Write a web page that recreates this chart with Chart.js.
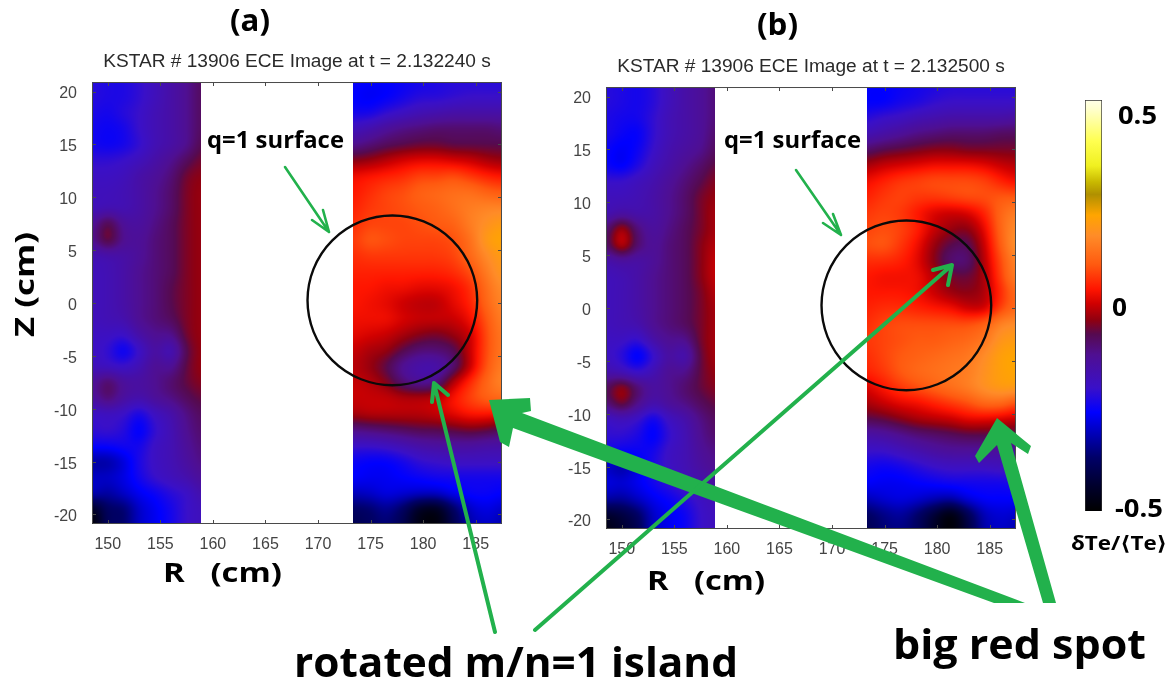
<!DOCTYPE html>
<html><head><meta charset="utf-8">
<script src="https://cdn.jsdelivr.net/npm/chart.js@4"></script>
<style>
html,body{margin:0;padding:0;background:#fff;width:1173px;height:685px;overflow:hidden}
canvas{position:absolute}
svg{position:absolute;left:0;top:0;pointer-events:none}
svg text{font-family:"Open Sans","Noto Sans","DejaVu Sans",sans-serif;font-weight:700;fill:#000}
</style></head><body>
<canvas id="ca" width="594" height="555" style="left:0;top:45px"></canvas>
<canvas id="cb" width="542" height="555" style="left:540px;top:50px"></canvas>
<canvas id="cc" width="17" height="411" style="left:1085px;top:100px"></canvas>
<svg width="1173" height="685" viewBox="0 0 1173 685">
 <g fill="#22b14c" stroke="none">
  <polygon points="489,400 530,398 531,411 522,413 1025,603 994,603 513,428 509,447 500,442"/>
  <polygon points="997,418 1031,446 1028,454 1011,443 1056,603 1043,603 997,445 979,463 975,456"/>
 </g>
 <g fill="none" stroke="#22b14c" stroke-linecap="round" stroke-linejoin="round">
  <path d="M285 167 L329 232 M312 220 L329 232 L323 210" stroke-width="2.6"/>
  <path d="M796 170 L841 235 M823 223 L841 235 L833 214" stroke-width="2.6"/>
  <path d="M495 632 L434 383 M432 402 L434 383 L448 395" stroke-width="4"/>
  <path d="M535 630 L952 265 M933 270 L952 265 L948 285" stroke-width="4"/>
 </g>
 <text x="230" y="31" font-size="30" textLength="40" lengthAdjust="spacingAndGlyphs">(a)</text>
 <text x="757" y="35" font-size="30" textLength="41" lengthAdjust="spacingAndGlyphs">(b)</text>
 <text x="207" y="148" font-size="23" textLength="137" lengthAdjust="spacingAndGlyphs">q=1 surface</text>
 <text x="724" y="148" font-size="23" textLength="137" lengthAdjust="spacingAndGlyphs">q=1 surface</text>
 <text x="163" y="582" font-size="27" textLength="119" lengthAdjust="spacingAndGlyphs">R&#160;&#160;&#160;(cm)</text>
 <text x="647" y="590" font-size="27" textLength="118" lengthAdjust="spacingAndGlyphs">R&#160;&#160;&#160;(cm)</text>
 <text transform="translate(34,337) rotate(-90)" font-size="27" textLength="105" lengthAdjust="spacingAndGlyphs">Z&#160;(cm)</text>
 <text x="294" y="677" font-size="41" textLength="444" lengthAdjust="spacingAndGlyphs">rotated m/n=1 island</text>
 <text x="893" y="659" font-size="41" textLength="253" lengthAdjust="spacingAndGlyphs">big red spot</text>
 <text x="1118" y="124" font-size="25" textLength="39" lengthAdjust="spacingAndGlyphs">0.5</text>
 <text x="1112" y="316" font-size="25" textLength="15" lengthAdjust="spacingAndGlyphs">0</text>
 <text x="1115" y="517" font-size="25" textLength="48" lengthAdjust="spacingAndGlyphs">-0.5</text>
 <text x="1071" y="550" font-size="20" textLength="96" lengthAdjust="spacingAndGlyphs">δTe/⟨Te⟩</text>
</svg>
<script>
const panelTitles = ["KSTAR # 13906 ECE Image at t = 2.132240 s","KSTAR # 13906 ECE Image at t = 2.132500 s"];
const rTicks = [150,155,160,165,170,175,180,185];
const zTicks = [20,15,10,5,0,-5,-10,-15,-20];
const rRange = [148.5,187.5];
const zRange = [-20.9,20.9];
const rLeft  = [148.5,150,151.5,153,154.5,156,157.5,158.9];
const rRight = [173.3,174.9,176.5,178.1,179.7,181.3,182.9,184.5,186.1,187.5];
const zNodes = [21,19.5,18,16.5,15,13.5,12,10.5,9,7.5,6,4.5,3,1.5,0,-1.5,-3,-4.5,-6,-7.5,-9,-10.5,-12,-13.5,-15,-16.5,-18,-19.5,-21];
const qCircle = {r:177.07,z:0.25,radius:8.07};
const cmapValues = [-0.5,-0.44,-0.37,-0.26,-0.2,-0.12,-0.07,-0.035,0.005,0.04,0.1,0.17,0.22,0.27,0.3,0.34,0.4,0.48,0.5];
const cmapColors = ["#000000","#00002c","#000068","#0000ff","#3a10c8","#4f0f92","#560a50","#900010","#d00000","#ff1500","#ff5a10","#ff8c28","#ffa500","#b09000","#c8b800","#f0f020","#ffff50","#ffffd0","#ffffe8"];

const aLeft = [
[-.22,-.23,-.23,-.21,-.18,-.15,-.12,-.08],
[-.22,-.23,-.23,-.21,-.18,-.15,-.12,-.08],
[-.23,-.24,-.22,-.2,-.17,-.15,-.12,-.08],
[-.24,-.25,-.24,-.2,-.17,-.15,-.12,-.08],
[-.24,-.25,-.24,-.21,-.17,-.15,-.12,-.07],
[-.21,-.21,-.2,-.18,-.15,-.12,-.08,-.05],
[-.19,-.19,-.18,-.15,-.13,-.1,-.05,-.035],
[-.18,-.18,-.17,-.15,-.12,-.09,-.045,-.03],
[-.18,-.17,-.17,-.15,-.12,-.09,-.045,-.03],
[-.13,-.06,-.13,-.14,-.11,-.08,-.045,-.03],
[-.12,-.045,-.12,-.13,-.1,-.08,-.045,-.03],
[-.17,-.16,-.15,-.13,-.1,-.08,-.045,-.03],
[-.18,-.17,-.15,-.12,-.1,-.08,-.045,-.03],
[-.18,-.17,-.15,-.12,-.1,-.07,-.045,-.03],
[-.18,-.17,-.15,-.12,-.1,-.07,-.045,-.03],
[-.18,-.17,-.16,-.12,-.1,-.08,-.045,-.03],
[-.19,-.19,-.2,-.15,-.12,-.12,-.05,-.03],
[-.19,-.21,-.26,-.2,-.14,-.18,-.07,-.03],
[-.18,-.19,-.2,-.17,-.12,-.13,-.06,-.03],
[-.13,-.08,-.13,-.14,-.12,-.09,-.06,-.04],
[-.14,-.09,-.14,-.16,-.13,-.11,-.08,-.06],
[-.2,-.19,-.2,-.24,-.19,-.16,-.11,-.08],
[-.21,-.2,-.22,-.27,-.21,-.17,-.12,-.09],
[-.25,-.25,-.24,-.24,-.19,-.17,-.13,-.1],
[-.33,-.33,-.29,-.23,-.19,-.17,-.14,-.11],
[-.3,-.3,-.28,-.24,-.2,-.18,-.16,-.13],
[-.31,-.33,-.3,-.27,-.25,-.22,-.2,-.16],
[-.46,-.38,-.37,-.3,-.27,-.24,-.2,-.18],
[-.5,-.38,-.37,-.3,-.27,-.24,-.2,-.18]];
const aRight = [
[-.25,-.26,-.26,-.25,-.24,-.23,-.22,-.22,-.22,-.22],
[-.26,-.27,-.26,-.24,-.22,-.22,-.21,-.2,-.2,-.2],
[-.24,-.24,-.21,-.19,-.17,-.16,-.15,-.15,-.15,-.15],
[-.18,-.16,-.13,-.11,-.1,-.09,-.09,-.09,-.09,-.1],
[-.12,-.1,-.08,-.07,-.06,-.06,-.07,-.07,-.07,-.07],
[-.04,-.03,-.01,.01,.02,.02,.01,0,-.02,-.03],
[.03,.04,.05,.06,.08,.08,.09,.07,.05,.04],
[.04,.06,.08,.09,.11,.12,.13,.13,.11,.1],
[.05,.07,.08,.09,.1,.11,.13,.15,.16,.16],
[.06,.08,.08,.08,.09,.1,.11,.15,.18,.2],
[.07,.1,.09,.08,.08,.08,.09,.13,.2,.22],
[.06,.07,.07,.07,.07,.07,.08,.12,.17,.2],
[.05,.05,.05,.05,.05,.05,.06,.09,.15,.19],
[.04,.04,.03,.03,.02,.02,.03,.06,.13,.17],
[.04,.03,.02,0,-.01,-.01,.02,.05,.12,.16],
[.03,.03,.03,.01,0,0,0,.03,.1,.15],
[.02,.01,0,-.02,-.04,-.05,-.03,0,.09,.14],
[0,-.02,-.03,-.07,-.1,-.1,-.08,0,.09,.14],
[-.01,-.03,-.07,-.13,-.16,-.16,-.1,0,.1,.15],
[0,-.01,-.04,-.1,-.13,-.11,-.01,.06,.12,.16],
[0,0,0,-.01,-.01,0,.04,.08,.11,.12],
[-.02,-.01,-.01,-.01,-.01,0,.02,.04,.04,.03],
[-.11,-.1,-.09,-.08,-.07,-.07,-.06,-.05,-.06,-.08],
[-.2,-.2,-.19,-.17,-.15,-.14,-.14,-.14,-.15,-.15],
[-.25,-.26,-.26,-.24,-.21,-.2,-.19,-.19,-.19,-.19],
[-.26,-.27,-.27,-.26,-.25,-.24,-.24,-.24,-.24,-.24],
[-.31,-.3,-.28,-.29,-.3,-.3,-.27,-.25,-.25,-.26],
[-.38,-.37,-.34,-.38,-.46,-.47,-.38,-.3,-.28,-.3],
[-.4,-.38,-.36,-.4,-.48,-.49,-.4,-.32,-.3,-.32]];
const bLeft = [
[-.22,-.23,-.24,-.22,-.18,-.15,-.13,-.1],
[-.22,-.23,-.24,-.22,-.18,-.15,-.13,-.1],
[-.23,-.24,-.24,-.21,-.17,-.15,-.13,-.1],
[-.23,-.25,-.26,-.21,-.17,-.15,-.13,-.09],
[-.25,-.27,-.25,-.2,-.16,-.14,-.12,-.08],
[-.25,-.27,-.23,-.18,-.15,-.12,-.09,-.06],
[-.2,-.2,-.18,-.16,-.13,-.1,-.07,-.04],
[-.18,-.18,-.17,-.15,-.12,-.09,-.05,-.03],
[-.17,-.15,-.16,-.15,-.12,-.09,-.05,-.02],
[-.1,-.01,-.1,-.14,-.11,-.08,-.05,-.02],
[-.09,.01,-.09,-.13,-.1,-.08,-.04,-.01],
[-.16,-.14,-.15,-.13,-.1,-.08,-.04,0],
[-.18,-.17,-.15,-.12,-.1,-.08,-.04,0],
[-.18,-.17,-.15,-.12,-.1,-.08,-.05,-.01],
[-.18,-.17,-.15,-.12,-.1,-.08,-.05,-.02],
[-.18,-.17,-.16,-.12,-.1,-.08,-.05,-.02],
[-.19,-.19,-.21,-.15,-.12,-.12,-.05,-.02],
[-.19,-.22,-.28,-.21,-.14,-.17,-.06,-.02],
[-.16,-.18,-.21,-.17,-.12,-.12,-.06,-.03],
[-.08,-.02,-.09,-.14,-.12,-.09,-.06,-.04],
[-.1,-.04,-.11,-.16,-.13,-.11,-.08,-.06],
[-.2,-.18,-.2,-.25,-.19,-.16,-.11,-.08],
[-.21,-.21,-.23,-.27,-.21,-.17,-.12,-.09],
[-.24,-.25,-.25,-.24,-.19,-.17,-.13,-.11],
[-.3,-.33,-.28,-.23,-.19,-.17,-.14,-.12],
[-.28,-.29,-.27,-.24,-.21,-.18,-.16,-.14],
[-.32,-.33,-.3,-.27,-.25,-.22,-.19,-.17],
[-.44,-.42,-.38,-.3,-.27,-.25,-.2,-.18],
[-.48,-.44,-.4,-.3,-.27,-.25,-.2,-.18]];
const bRight = [
[-.26,-.26,-.25,-.24,-.23,-.22,-.22,-.22,-.22,-.22],
[-.26,-.26,-.24,-.23,-.21,-.2,-.2,-.2,-.2,-.2],
[-.22,-.2,-.19,-.17,-.16,-.15,-.15,-.15,-.15,-.14],
[-.17,-.15,-.13,-.11,-.1,-.09,-.09,-.09,-.08,-.08],
[-.09,-.07,-.06,-.05,-.04,-.04,-.05,-.05,-.05,-.05],
[-.02,0,.01,.02,.03,.03,.03,.02,0,-.01],
[.03,.05,.07,.08,.09,.09,.09,.08,.05,.03],
[.05,.07,.08,.07,.07,.08,.09,.09,.1,.1],
[.07,.08,.07,.04,.01,0,.01,.05,.12,.15],
[.08,.09,.08,.05,0,-.03,-.04,.02,.12,.17],
[.09,.1,.07,.03,-.03,-.07,-.08,0,.11,.18],
[.06,.06,.05,.02,-.04,-.1,-.1,-.01,.09,.16],
[.04,.03,.03,.03,-.01,-.05,-.06,-.02,.08,.15],
[.04,.04,.04,.03,0,-.03,-.04,-.02,.06,.12],
[.05,.06,.06,.05,.04,.03,0,0,.08,.12],
[.06,.08,.09,.09,.09,.09,.09,.11,.16,.17],
[.07,.08,.09,.1,.1,.11,.12,.14,.19,.2],
[.06,.08,.1,.11,.12,.13,.14,.17,.21,.22],
[.05,.07,.1,.12,.13,.14,.15,.18,.21,.22],
[.01,.04,.07,.09,.11,.13,.15,.18,.2,.2],
[-.02,0,.02,.03,.05,.07,.09,.12,.12,.09],
[-.07,-.06,-.04,-.02,-.01,0,.02,.02,.01,0],
[-.15,-.14,-.12,-.1,-.09,-.08,-.07,-.07,-.07,-.08],
[-.2,-.2,-.18,-.16,-.14,-.13,-.13,-.13,-.14,-.14],
[-.24,-.25,-.24,-.22,-.2,-.19,-.19,-.19,-.18,-.18],
[-.26,-.27,-.27,-.26,-.25,-.24,-.24,-.24,-.24,-.23],
[-.31,-.29,-.28,-.29,-.31,-.32,-.28,-.26,-.26,-.26],
[-.38,-.35,-.33,-.37,-.43,-.49,-.4,-.31,-.29,-.3],
[-.4,-.36,-.35,-.38,-.45,-.5,-.42,-.32,-.3,-.32]];

function hexRgb(h){return [1,3,5].map(i=>parseInt(h.substr(i,2),16));}
const stopsRgb = cmapColors.map(hexRgb);
function colourOf(v){
  if(v<=cmapValues[0])return stopsRgb[0];
  for(let i=1;i<cmapValues.length;i++){
    if(v<=cmapValues[i]){
      const t=(v-cmapValues[i-1])/(cmapValues[i]-cmapValues[i-1]);
      return stopsRgb[i-1].map((c,k)=>c+(stopsRgb[i][k]-c)*t);
    }
  }
  return stopsRgb[stopsRgb.length-1];
}
/* display smoothing only: half Catmull-Rom, half cubic B-spline */
function kern(a,b,c,d,t){
  const cr=b+0.5*t*(c-a+t*(2*a-5*b+4*c-d+t*(3*(b-c)+d-a)));
  const t2=t*t,t3=t2*t;
  const bs=(a*(1-3*t+3*t2-t3)+b*(4-6*t2+3*t3)+c*(1+3*t+3*t2-3*t3)+d*t3)/6;
  return 0.5*cr+0.5*bs;
}
function sampleGrid(g,u,v){
  const ny=g.length,nx=g[0].length;
  const iy=Math.min(Math.floor(v),ny-2),ix=Math.min(Math.floor(u),nx-2);
  const fy=v-iy,fx=u-ix,row=[];
  for(let j=-1;j<=2;j++){
    const r=g[Math.max(0,Math.min(ny-1,iy+j))];
    const at=k=>r[Math.max(0,Math.min(nx-1,k))];
    row.push(kern(at(ix-1),at(ix),at(ix+1),at(ix+2),fx));
  }
  return kern(row[0],row[1],row[2],row[3],fy);
}
function fracIndex(arr,val){
  const sgn=arr[1]>arr[0]?1:-1;
  for(let i=0;i<arr.length-1;i++){
    if(sgn*val<=sgn*arr[i+1]) return i+(val-arr[i])/(arr[i+1]-arr[i]);
  }
  return arr.length-1;
}
const heatPlugin = {
  id:'heat',
  beforeDatasetsDraw(chart,args,opts){
    const {ctx,chartArea:a,scales:{x,y}}=chart;
    const w=Math.round(a.right-a.left),h=Math.round(a.bottom-a.top);
    const off=document.createElement('canvas');off.width=w;off.height=h;
    const oc=off.getContext('2d'),img=oc.createImageData(w,h),d=img.data;
    for(let py=0;py<h;py++){
      const Z=y.getValueForPixel(a.top+py+0.5);
      const vi=Math.max(0,Math.min(zNodes.length-1,fracIndex(zNodes,Z)));
      for(let px=0;px<w;px++){
        const R=x.getValueForPixel(a.left+px+0.5);
        let g=null,u=0;
        if(R<=rLeft[rLeft.length-1]){g=opts.left;u=fracIndex(rLeft,R);}
        else if(R>=rRight[0]){g=opts.right;u=fracIndex(rRight,R);}
        const o=(py*w+px)*4;
        if(g){
          const c=colourOf(sampleGrid(g,Math.max(0,u),vi));
          d[o]=c[0];d[o+1]=c[1];d[o+2]=c[2];d[o+3]=255;
        }
      }
    }
    oc.putImageData(img,0,0);
    ctx.drawImage(off,a.left,a.top);
  },
  afterDatasetsDraw(chart){
    const {ctx,chartArea:a,scales:{x,y}}=chart;
    ctx.save();
    ctx.strokeStyle='#4a4a4a';ctx.lineWidth=1;
    ctx.beginPath();
    ctx.rect(a.left+.5,a.top+.5,a.right-a.left-1,a.bottom-a.top-1);
    x.ticks.forEach(t=>{const p=Math.round(x.getPixelForValue(t.value))+.5;
      ctx.moveTo(p,a.top);ctx.lineTo(p,a.top+4);ctx.moveTo(p,a.bottom);ctx.lineTo(p,a.bottom-4);});
    y.ticks.forEach(t=>{const p=Math.round(y.getPixelForValue(t.value))+.5;
      ctx.moveTo(a.left,p);ctx.lineTo(a.left+4,p);ctx.moveTo(a.right,p);ctx.lineTo(a.right-4,p);});
    ctx.stroke();
    const cx=x.getPixelForValue(qCircle.r),cy=y.getPixelForValue(qCircle.z);
    const rp=Math.abs(x.getPixelForValue(qCircle.r+qCircle.radius)-cx);
    ctx.strokeStyle='#0a0a0a';ctx.lineWidth=2.4;
    ctx.beginPath();ctx.arc(cx,cy,rp,0,Math.PI*2);ctx.stroke();
    ctx.restore();
  }
};
function cells(left,right){
  const pts=[];
  zNodes.forEach((z,j)=>{
    rLeft.forEach((r,i)=>pts.push({x:r,y:z,v:left[j][i]}));
    rRight.forEach((r,i)=>pts.push({x:r,y:z,v:right[j][i]}));
  });
  return pts;
}
function panel(id,title,left,right,yW){
  return new Chart(document.getElementById(id),{
    type:'scatter',
    plugins:[heatPlugin],
    data:{datasets:[{label:'δTe/⟨Te⟩',data:cells(left,right),pointRadius:0,showLine:false}]},
    options:{
      responsive:false,animation:false,
      layout:{padding:{right:id==='ca'?92:66,left:0,top:0,bottom:0}},
      plugins:{
        legend:{display:false},tooltip:{enabled:false},
        heat:{left,right},
        title:{display:true,fullSize:false,text:title,color:'#2a2a2a',
          font:{family:'"Liberation Sans",Arial,sans-serif',size:19.1,weight:'normal',lineHeight:1.2},
          padding:{top:5.5,bottom:8.6}}
      },
      scales:{
        x:{type:'linear',min:rRange[0],max:rRange[1],
          afterBuildTicks:s=>{s.ticks=rTicks.map(v=>({value:v}));},
          afterFit:s=>{s.height=76;},
          grid:{display:false},border:{display:false},
          ticks:{color:'#444',padding:3,maxRotation:0,autoSkip:false,
            font:{family:'"Liberation Sans",Arial,sans-serif',size:16}}},
        y:{type:'linear',min:zRange[0],max:zRange[1],
          afterBuildTicks:s=>{s.ticks=zTicks.map(v=>({value:v}));},
          afterFit:s=>{s.width=yW;},
          grid:{display:false},border:{display:false},
          ticks:{color:'#444',padding:7,labelOffset:2.5,autoSkip:false,
            font:{family:'"Liberation Sans",Arial,sans-serif',size:16}}}
      }
    }
  });
}
panel('ca',panelTitles[0],aLeft,aRight,92);
panel('cb',panelTitles[1],bLeft,bRight,66);

new Chart(document.getElementById('cc'),{
  type:'bar',
  data:{labels:['δTe/⟨Te⟩'],datasets:[{data:[[cmapValues[0],cmapValues[cmapValues.length-1]]],
    barPercentage:1,categoryPercentage:1,borderWidth:1,borderColor:'#333',
    backgroundColor(ctx){
      const c=ctx.chart;if(!c.chartArea)return '#000';
      const g=c.ctx.createLinearGradient(0,c.scales.y.getPixelForValue(-.5),0,c.scales.y.getPixelForValue(.5));
      cmapValues.forEach((v,i)=>g.addColorStop((v+.5),cmapColors[i]));
      return g;
    }}]},
  options:{responsive:false,animation:false,layout:{padding:0},
    plugins:{legend:{display:false},tooltip:{enabled:false}},
    scales:{x:{display:false},y:{display:false,min:-.5,max:.5}}}
});
</script>
</body></html>
